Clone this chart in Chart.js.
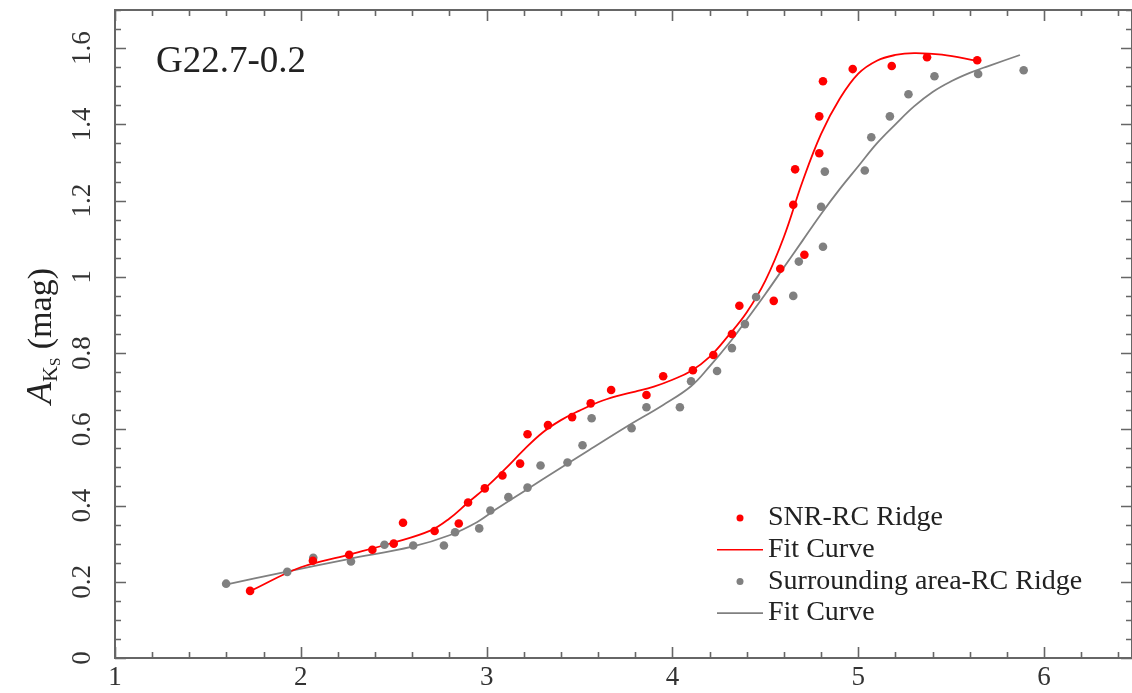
<!DOCTYPE html>
<html>
<head>
<meta charset="utf-8">
<script src="https://cdn.jsdelivr.net/npm/chart.js@4.4.0/dist/chart.umd.min.js"></script>
<style>
  html, body { margin: 0; padding: 0; background: #fff; }
  #wrap { width: 1132px; height: 693px; }
</style>
</head>
<body>
<div id="wrap"><canvas id="chart" width="1132" height="693"></canvas></div>
<script>
// SNR red clump ridge points
const snrX = [1.727, 2.065, 2.26, 2.385, 2.50, 2.55, 2.72, 2.85, 2.90, 2.99, 3.085, 3.18, 3.22, 3.33, 3.46,
  3.56, 3.67, 3.86, 3.95, 4.11, 4.22, 4.32, 4.36, 4.545, 4.58, 4.71, 4.65, 4.66, 4.79, 4.79, 4.81,
  4.97, 5.18, 5.37, 5.64];
const snrY = [0.176, 0.255, 0.271, 0.284, 0.30, 0.355, 0.333, 0.353, 0.408, 0.445, 0.479, 0.51, 0.587, 0.611, 0.632,
  0.668, 0.703, 0.69, 0.739, 0.755, 0.795, 0.85, 0.924, 0.937, 1.021, 1.058, 1.189, 1.282, 1.324, 1.421, 1.513,
  1.545, 1.553, 1.576, 1.568];

// surrounding area ridge points
const surX = [1.598, 1.927, 2.067, 2.27, 2.45, 2.605, 2.77, 2.83, 2.96, 3.02, 3.117, 3.22, 3.29, 3.435, 3.516,
  3.565, 3.78, 3.86, 4.04, 4.10, 4.24, 4.32, 4.39, 4.45, 4.65, 4.68, 4.81, 4.80, 4.82, 5.035, 5.07,
  5.17, 5.27, 5.41, 5.645, 5.89];
const surY = [0.195, 0.226, 0.263, 0.253, 0.297, 0.295, 0.295, 0.33, 0.34, 0.387, 0.422, 0.447, 0.505, 0.513, 0.558,
  0.629, 0.603, 0.658, 0.658, 0.726, 0.753, 0.813, 0.876, 0.947, 0.95, 1.04, 1.079, 1.184, 1.276, 1.279, 1.366,
  1.421, 1.479, 1.526, 1.532, 1.542];

// fit curves
const snrFitX = [1.73, 2.0, 2.25, 2.5, 2.7, 2.8, 2.9, 3.0, 3.1, 3.2, 3.3, 3.4, 3.5, 3.6, 3.7, 3.8, 3.9, 4.0,
  4.1, 4.2, 4.3, 4.4, 4.5, 4.6, 4.7, 4.8, 4.9, 5.0, 5.1, 5.2, 5.3, 5.45, 5.64];
const snrFitY = [0.176, 0.238, 0.27, 0.303, 0.335, 0.366, 0.408, 0.449, 0.496, 0.546, 0.591, 0.624, 0.649, 0.671,
  0.687, 0.699, 0.712, 0.73, 0.753, 0.79, 0.845, 0.907, 0.99, 1.105, 1.25, 1.375, 1.467, 1.533, 1.567, 1.582,
  1.587, 1.583, 1.567];

const surFitX = [1.59, 1.9, 2.25, 2.6, 2.8, 2.95, 3.05, 3.2, 3.4, 3.55, 3.75, 3.95, 4.1, 4.2, 4.3, 4.4, 4.5, 4.6,
  4.7, 4.8, 4.9, 5.0, 5.1, 5.2, 5.3, 5.4, 5.5, 5.6, 5.7, 5.87];
const surFitY = [0.192, 0.224, 0.259, 0.292, 0.322, 0.357, 0.39, 0.437, 0.499, 0.545, 0.606, 0.664, 0.713, 0.765, 0.823,
  0.888, 0.955, 1.025, 1.095, 1.165, 1.23, 1.29, 1.35, 1.40, 1.447, 1.485, 1.513, 1.535, 1.553, 1.582];

const seriesNames = ['SNR-RC Ridge', 'Fit Curve', 'Surrounding area-RC Ridge', 'Fit Curve'];
const xTicks = [1, 2, 3, 4, 5, 6];
const yTicks = [0, 0.2, 0.4, 0.6, 0.8, 1, 1.2, 1.4, 1.6];
const yTickLabels = ['0', '0.2', '0.4', '0.6', '0.8', '1', '1.2', '1.4', '1.6'];
const regionName = 'G22.7-0.2';

const RED = '#ff0000';
const GREY = '#808080';
const AXIS = '#666666';
const INK = '#222222';
const SERIF = "'Liberation Serif', 'DejaVu Serif', serif";

const pts = (xs, ys) => xs.map((v, i) => ({ x: v, y: ys[i] }));

// box with inward ticks on all sides, tick labels on y, panel texts
const frame = {
  id: 'frame',
  beforeDatasetsDraw(chart) {
    const { ctx, chartArea: a, scales: { x, y } } = chart;
    ctx.save();
    ctx.strokeStyle = AXIS;
    ctx.lineWidth = 1.6;
    for (let i = 0; 1 + i * 0.2 <= x.max + 1e-6; i++) {
      const px = Math.round(x.getPixelForValue(1 + i * 0.2)) + 0.5;
      const len = i % 5 === 0 ? 11 : 6;
      ctx.beginPath();
      ctx.moveTo(px, a.bottom); ctx.lineTo(px, a.bottom - len);
      ctx.moveTo(px, a.top); ctx.lineTo(px, a.top + len);
      ctx.stroke();
    }
    for (let i = 0; i * 0.05 <= y.max + 1e-6; i++) {
      const py = Math.round(y.getPixelForValue(i * 0.05)) + 0.5;
      const len = i % 4 === 0 ? 11 : 6;
      ctx.beginPath();
      ctx.moveTo(a.left, py); ctx.lineTo(a.left + len, py);
      ctx.moveTo(a.right, py); ctx.lineTo(a.right - len, py);
      ctx.stroke();
    }
    ctx.lineWidth = 2;
    ctx.strokeRect(a.left, a.top, a.right - a.left, a.bottom - a.top);
    ctx.restore();
  },
  afterDraw(chart) {
    const { ctx, chartArea: a, scales: { y } } = chart;
    ctx.save();
    ctx.fillStyle = '#333';
    ctx.font = '27px ' + SERIF;
    ctx.textAlign = 'center';
    ctx.textBaseline = 'alphabetic';
    yTicks.forEach((v, i) => {
      ctx.save();
      ctx.translate(a.left - 25, y.getPixelForValue(v));
      ctx.rotate(-Math.PI / 2);
      ctx.fillText(yTickLabels[i], 0, 0);
      ctx.restore();
    });

    // y axis title: A_{K_S} (mag)
    const parts = [
      { t: 'A', f: 'italic 36px ' + SERIF, dy: 0 },
      { t: 'K', f: '22px ' + SERIF, dy: 6 },
      { t: 'S', f: '15px ' + SERIF, dy: 9 },
      { t: ' (mag)', f: '34px ' + SERIF, dy: 0 }
    ];
    let total = 0;
    parts.forEach(p => { ctx.font = p.f; p.w = ctx.measureText(p.t).width; total += p.w; });
    ctx.translate(51, (a.top + a.bottom) / 2 + 2);
    ctx.rotate(-Math.PI / 2);
    ctx.textAlign = 'left';
    ctx.fillStyle = INK;
    let cx = -total / 2;
    parts.forEach(p => { ctx.font = p.f; ctx.fillText(p.t, cx, p.dy); cx += p.w; });
    ctx.restore();

    // region name
    ctx.save();
    ctx.fillStyle = INK;
    ctx.font = '37px ' + SERIF;
    ctx.textBaseline = 'alphabetic';
    ctx.fillText(regionName, 156, 72);

    // legend
    ctx.font = '28px ' + SERIF;
    ctx.textBaseline = 'middle';
    chart.data.datasets.forEach((ds, i) => {
      const ly = 518 + i * 31.7;
      if (ds.showLine) {
        ctx.strokeStyle = ds.borderColor;
        ctx.lineWidth = 1.6;
        ctx.beginPath();
        ctx.moveTo(717, ly); ctx.lineTo(763, ly);
        ctx.stroke();
      } else {
        ctx.fillStyle = ds.backgroundColor;
        ctx.beginPath();
        ctx.arc(740, ly, 3.5, 0, Math.PI * 2);
        ctx.fill();
      }
      ctx.fillStyle = INK;
      ctx.fillText(ds.label, 768, ly);
    });
    ctx.restore();
  }
};

new Chart(document.getElementById('chart'), {
  type: 'scatter',
  data: {
    datasets: [
      { label: seriesNames[0], data: pts(snrX, snrY), backgroundColor: RED, borderWidth: 0, pointRadius: 4.3, order: 0 },
      { label: seriesNames[1], data: pts(snrFitX, snrFitY), showLine: true, borderColor: RED, borderWidth: 1.8,
        pointRadius: 0, tension: 0.4, order: 2 },
      { label: seriesNames[2], data: pts(surX, surY), backgroundColor: GREY, borderWidth: 0, pointRadius: 4.3, order: 1 },
      { label: seriesNames[3], data: pts(surFitX, surFitY), showLine: true, borderColor: GREY, borderWidth: 1.8,
        pointRadius: 0, tension: 0.4, order: 3 }
    ]
  },
  options: {
    responsive: false,
    animation: false,
    devicePixelRatio: 1,
    layout: { autoPadding: false, padding: { left: 0, right: -1, top: 10, bottom: 0 } },
    plugins: { legend: { display: false }, tooltip: { enabled: false } },
    scales: {
      x: {
        type: 'linear', min: 1, max: 6.473,
        afterFit: s => { s.height = 35; },
        grid: { display: false, drawTicks: false },
        border: { display: false },
        afterBuildTicks: s => { s.ticks = xTicks.map(v => ({ value: v })); },
        ticks: { font: { family: SERIF, size: 27 }, color: '#333', padding: 4, callback: v => String(v) }
      },
      y: {
        type: 'linear', min: 0, max: 1.7,
        afterFit: s => { s.width = 115; },
        grid: { display: false, drawTicks: false },
        border: { display: false },
        ticks: { display: false }
      }
    }
  },
  plugins: [frame]
});
</script>
</body>
</html>
